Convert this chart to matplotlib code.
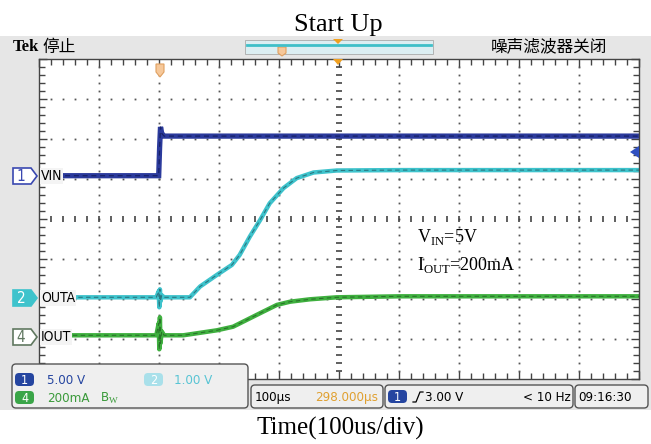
import matplotlib
matplotlib.use("Agg")
import matplotlib.pyplot as plt
import numpy as np
from matplotlib.patches import Rectangle, Polygon, FancyBboxPatch

plt.rcParams['mathtext.fontset'] = 'custom'
plt.rcParams['mathtext.rm'] = 'Liberation Serif'

# ---- data (time in us, trigger at 0) ----
t_vin = [-157, -1, 0.5, 2, 4, 8, 20, 800]
vin = [0, 0, 3.5, 6.1, 5.3, 4.95, 4.95, 4.95]          # V

t_outa = [-135, -5, -1, 0, 1, 2, 4, 8, 51, 68, 96, 121, 134, 151, 168, 184,
          207, 229, 257, 296, 401, 800]
outa = [0, 0, 0.15, -0.25, 0.2, -0.1, 0.05, 0, 0, 0.27, 0.56, 0.81, 1.06,
        1.52, 1.93, 2.35, 2.73, 2.98, 3.12, 3.17, 3.18, 3.18]  # V

t_iout = [-144, -5, -1, 0, 1, 2, 4, 8, 40, 96, 123, 151, 173, 196, 218, 251,
          296, 401, 800]
iout = [0, 0, 60, -70, 90, -40, 20, 0, 0, 25, 43, 85, 118, 152, 168, 180,
        190, 195, 195]  # mA

# channel settings: ground position (div) and scale per div
vin_gnd, vin_scale = 5.09, 5.0
outa_gnd, outa_scale = 2.05, 1.0
iout_gnd, iout_scale = 1.1, 200.0

W, H = 651, 444
fig = plt.figure(figsize=(W / 100, H / 100), dpi=100)

# background (pixel coords)
bg = fig.add_axes([0, 0, 1, 1], zorder=0)
bg.set_xlim(0, W)
bg.set_ylim(H, 0)
bg.axis('off')
bg.add_patch(Rectangle((0, 36), W, 374, color='#e6e6e6', lw=0))

# scope graticule
gx0, gx1, gy0, gy1 = 39.3, 639.3, 59.3, 379.3
ax = fig.add_axes([gx0 / W, 1 - gy1 / H, (gx1 - gx0) / W, (gy1 - gy0) / H], zorder=2)
ax.set_xlim(-200, 800)
ax.set_ylim(0, 8)
ax.set_facecolor('white')
for s in ax.spines.values():
    s.set_color('#444444')
    s.set_linewidth(1.0)
ax.set_xticks(np.arange(-200, 801, 100))
ax.set_yticks(np.arange(0, 9, 1))
ax.set_xticks(np.arange(-200, 801, 20), minor=True)
ax.set_yticks(np.arange(0, 8.01, 0.2), minor=True)
ax.tick_params(which='both', direction='in', top=True, right=True,
               labelbottom=False, labelleft=False, color='#444444')
ax.tick_params(which='major', length=6, width=1)
ax.tick_params(which='minor', length=4, width=1)

dots_y = np.arange(0.2, 8, 0.2)
dots_x = np.arange(-180, 800, 20)
for gx in np.arange(-100, 800, 100):
    if gx == 300:
        continue
    ax.plot(np.full_like(dots_y, gx), dots_y, ls='none', marker='s', ms=1.3,
            color='#555555', mew=0)
for gy in range(1, 8):
    if gy == 4:
        continue
    ax.plot(dots_x, np.full_like(dots_x, gy, dtype=float), ls='none', marker='s',
            ms=1.3, color='#555555', mew=0)
# center cross with small ticks
ax.plot(np.full_like(dots_y, 300), dots_y, ls='none', marker='_', ms=5,
        color='#444444', mew=1.2)
ax.plot(dots_x, np.full_like(dots_x, 4, dtype=float), ls='none', marker='|',
        ms=5, color='#444444', mew=1.2)

# traces
vin_d = vin_gnd + np.array(vin) / vin_scale
outa_d = outa_gnd + np.array(outa) / outa_scale
iout_d = iout_gnd + np.array(iout) / iout_scale

ax.plot(t_vin, vin_d, color='#2b3a9c', lw=3.8, solid_joinstyle='miter')
ax.plot(t_vin, vin_d, color='#0d1650', lw=0.9, ls=(0, (4, 3)), alpha=0.7)
ax.plot(t_outa, outa_d, color='#3ec3cc', lw=3.2)
ax.plot(t_outa, outa_d, color='#1d4650', lw=0.8, ls=(0, (4, 3)), alpha=0.6)
ax.plot(t_iout, iout_d, color='#3fb03f', lw=3.2)
ax.plot(t_iout, iout_d, color='#1a4a1a', lw=0.8, ls=(0, (4, 3)), alpha=0.6)

# overlay (pixel coords)
ov = fig.add_axes([0, 0, 1, 1], zorder=5)
ov.set_xlim(0, W)
ov.set_ylim(H, 0)
ov.axis('off')
ov.patch.set_alpha(0)

narrow = dict(family='DejaVu Sans', stretch='condensed')
cjk = ['Noto Sans CJK SC', 'DejaVu Sans']

# header
ov.text(13, 47, 'Tek', family='Liberation Serif', weight='bold', fontsize=12,
        va='center', ha='left')
ov.text(42, 47, '停止', family=cjk, fontsize=12, va='center', ha='left')
ov.text(607, 47, '噪声滤波器关闭', family=cjk, fontsize=12, va='center', ha='right')
ov.add_patch(Rectangle((245, 40), 188, 14, fc='#dceef2', ec='#aaaaaa', lw=0.6))
ov.plot([247, 431], [45.5, 45.5], color='#3fbfc8', lw=2)
ov.add_patch(Polygon([[333, 39], [343, 39], [338, 44]], fc='#f0a020', ec='none'))
ov.add_patch(Polygon([[278, 47], [286, 47], [286, 53], [282, 56], [278, 53]],
                     fc='#f6c89a', ec='#e0a060', lw=0.8))
ov.add_patch(Polygon([[333, 59], [343, 59], [338, 65]], fc='#f0a020', ec='none'))
ov.add_patch(Polygon([[156, 64], [164, 64], [164, 72], [160, 77], [156, 72]],
                     fc='#f6c89a', ec='#e0a060', lw=0.8))
ov.add_patch(Polygon([[639, 146], [639, 158], [630, 152]], fc='#3050c0', ec='none'))

# channel tags


def chan_tag(yc, label, edge, face, tcolor):
    pts = [[13, yc - 8], [31, yc - 8], [37, yc], [31, yc + 8], [13, yc + 8]]
    ov.add_patch(Polygon(pts, fc=face, ec=edge, lw=1.2))
    ov.text(21, yc + 0.5, label, fontsize=11, color=tcolor, ha='center', va='center',
            **narrow)


chan_tag(176, '1', '#3a48b0', 'white', '#3a48b0')
chan_tag(298, '2', '#3ec3cc', '#3ec3cc', 'white')
chan_tag(337, '4', '#607860', 'white', '#607860')
for yc, lab in [(176, 'VIN'), (298, 'OUTA'), (337, 'IOUT')]:
    ov.text(41, yc, lab, fontsize=10, va='center', ha='left',
            bbox=dict(fc='#f4f4f4', ec='none', pad=0.5), **narrow)

# annotation
ov.text(417, 242, r'V$_{\rm IN}$=5V', family='Liberation Serif', fontsize=13,
        va='baseline', ha='left')
ov.text(417, 270, r'I$_{\rm OUT}$=200mA', family='Liberation Serif', fontsize=13,
        va='baseline', ha='left')

# bottom readouts


def box(x0, y0, x1, y1):
    ov.add_patch(FancyBboxPatch((x0, y0), x1 - x0, y1 - y0,
                                boxstyle='round,pad=0,rounding_size=4',
                                fc='#efefef', ec='#555555', lw=1))


def badge(x0, y0, label, face, tcolor='white'):
    ov.add_patch(FancyBboxPatch((x0, y0), 19, 13,
                                boxstyle='round,pad=0,rounding_size=4',
                                fc=face, ec='none'))
    ov.text(x0 + 9.5, y0 + 7, label, fontsize=9, color=tcolor, ha='center',
            va='center', **narrow)


box(12, 364, 248, 408)
box(251, 385, 383, 408)
box(385, 385, 573, 408)
box(575, 385, 648, 408)

badge(15, 373, '1', '#2545a0')
badge(15, 391, '4', '#3aa548')
badge(144, 373, '2', '#a9e0ea')
badge(388, 390, '1', '#2545a0')

fs = 9.5
ov.text(47, 380, '5.00 V', fontsize=fs, color='#2545a0', va='center', **narrow)
ov.text(174, 380, '1.00 V', fontsize=fs, color='#58c4d4', va='center', **narrow)
ov.text(47, 398, '200mA', fontsize=fs, color='#3a9a3a', va='center', **narrow)
ov.text(100, 398, r'B$_{\rm W}$', fontsize=fs, color='#3a9a3a', va='center',
        **narrow)
ov.text(255, 397, '100µs', fontsize=fs, va='center', **narrow)
ov.text(378, 397, '298.000µs', fontsize=fs, color='#e0a030', va='center',
        ha='right', **narrow)
ov.plot([413, 416, 420, 423], [402, 402, 392, 392], color='black', lw=0.9)
ov.text(425, 397, '3.00 V', fontsize=fs, va='center', **narrow)
ov.text(571, 397, '< 10 Hz', fontsize=fs, va='center', ha='right', **narrow)
ov.text(578, 397, '09:16:30', fontsize=fs, va='center', **narrow)

# figure texts
fig.text(338 / W, 1 - 25 / H, 'Start Up', family='Liberation Serif', fontsize=19,
         ha='center', va='center')
fig.text(340 / W, 1 - 428 / H, 'Time(100us/div)', family='Liberation Serif',
         fontsize=18, ha='center', va='center')

fig.savefig('out.png', dpi=100)
